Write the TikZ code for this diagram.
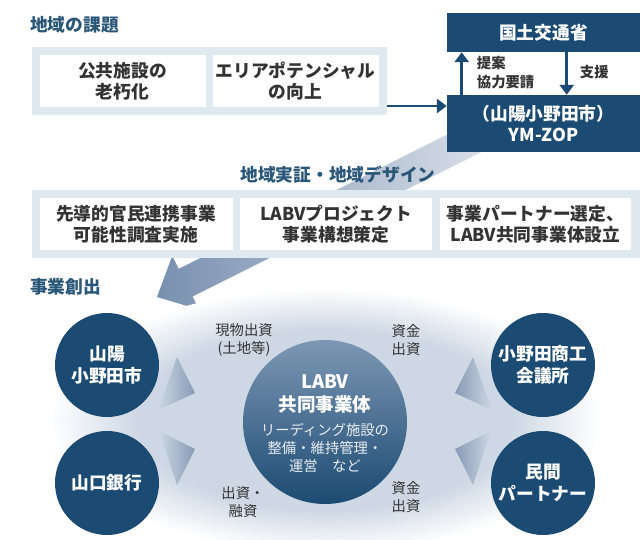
\documentclass[tikz,border=0pt]{standalone}
\usepackage{fontspec}
\setmainfont{Noto Sans CJK JP}
\usetikzlibrary{arrows.meta,calc}
\definecolor{navy}{HTML}{1B4A72}
\definecolor{headblue}{HTML}{2A5677}
\definecolor{panelblue}{HTML}{DFE9F0}
\definecolor{glowblue}{HTML}{CDD8E4}
\definecolor{wedgeblue}{HTML}{8799B5}
\definecolor{arrowblue}{HTML}{7890B0}
\definecolor{hubtop}{HTML}{7D97B4}
\definecolor{inkgray}{HTML}{333333}
\newlength{\pxu}
\setlength{\pxu}{0.025cm}
\pgfdeclareradialshading{glow}{\pgfpoint{0bp}{0bp}}{color(0bp)=(glowblue); color(17bp)=(glowblue); color(25bp)=(white); color(50bp)=(white)}
\begin{document}
\begin{tikzpicture}[x=0.025cm,y=-0.025cm,
  big/.style={font=\bfseries\fontsize{12.6}{15}\selectfont},
  heading/.style={big,text=headblue,anchor=west,inner sep=0pt},
  panel/.style={fill=panelblue,inner sep=0pt,minimum height=68\pxu},
  whitebox/.style={big,fill=white,text=inkgray,align=center,inner sep=0pt,minimum height=52\pxu},
  navybox/.style={big,fill=navy,text=white,align=center,inner sep=0pt,minimum width=193\pxu},
  party/.style={circle,fill=navy,text=white,align=center,inner sep=0pt,minimum size=104\pxu,
    font=\bfseries\fontsize{12.6}{15.4}\selectfont},
  hub/.style={circle,top color=hubtop,bottom color=navy,inner sep=0pt,minimum size=164\pxu},
  hubtitle/.style={text=white,align=center,font=\bfseries\fontsize{13.2}{16.2}\selectfont},
  hubnote/.style={text=white!90!navy,align=center,font=\fontsize{10.2}{13.1}\selectfont},
  flowlabel/.style={text=inkgray,align=center,font=\fontsize{10.2}{12.4}\selectfont},
  asklabel/.style={text=inkgray,anchor=west,align=left,font=\bfseries\fontsize{10.2}{13.4}\selectfont},
  flow/.style={draw=navy,line width=2.1pt,-{Triangle[length=7pt,width=10pt]}}]
\useasboundingbox (0,0) rectangle (640,540);

\begin{scope}[shift={(157,297)},rotate=26.57]
\shade[left color=arrowblue,right color=arrowblue!20!white] (0,0) -- (32,30) -- (32,15.5) -- (406,15.5)
  -- (406,-15.5) -- (32,-15.5) -- (32,-30) -- cycle;
\end{scope}

\node[heading] (issues) at (30,25) {地域の課題};
\node[panel,minimum width=355\pxu] (issuepanel) at (209.5,81) {};
\node[whitebox,minimum width=166\pxu] (aging) at (122.5,81) {公共施設の\\老朽化};
\node[whitebox,minimum width=166\pxu] (potential) at (295.5,81) {エリアポテンシャル\\の向上};

\node[navybox,minimum height=39\pxu] (mlit) at (543.5,32.5) {国土交通省};
\node[navybox,minimum height=57\pxu] (zop) at (543.5,123.5) {（山陽小野田市）\\YM-ZOP};

\coordinate (feed) at (387,106);
\draw[flow] (feed) -- (feed -| zop.west);
\draw[flow] ($(zop.north west)+(15,0)$) -- ($(mlit.south west)+(15,0)$);
\draw[flow] ($(mlit.south west)+(120,0)$) -- ($(zop.north west)+(120,0)$);
\node[asklabel] (ask) at (472,73) {提案\\協力要請};
\node[asklabel] (aid) at (575,72) {支援};

\node[heading,anchor=center] (design) at (338,175) {地域実証・地域デザイン};
\node[panel,minimum width=608\pxu] (designpanel) at (336,224) {};
\node[whitebox,minimum width=193\pxu] (study) at (136,224) {先導的官民連携事業\\可能性調査実施};
\node[whitebox,minimum width=192\pxu] (plan) at (336,224) {LABVプロジェクト\\事業構想策定};
\node[whitebox,minimum width=191\pxu] (setup) at (535.5,224) {事業パートナー選定、\\LABV共同事業体設立};

\node[heading] (create) at (30,287) {事業創出};
\shade[shading=glow] (325,420) ellipse [x radius=275, y radius=132];

\shade[left color=glowblue,right color=wedgeblue] (177,357) -- (195,393) -- (158,410) -- cycle;
\shade[left color=glowblue,right color=wedgeblue] (159,431) -- (195,449) -- (177,485) -- cycle;
\shade[left color=wedgeblue,right color=glowblue] (473,357) -- (455,393) -- (492,410) -- cycle;
\shade[left color=wedgeblue,right color=glowblue] (491,431) -- (455,449) -- (473,485) -- cycle;

\node[party] (city) at (107,365) {山陽\\小野田市};
\node[party] (bank) at (107,483) {山口銀行};
\node[party] (chamber) at (543,365) {小野田商工\\会議所};
\node[party] (partner) at (543,483) {民間\\パートナー};

\node[hub] (labv) at (325,422) {};
\node[hubtitle] (labvname) at (325,394) {LABV\\共同事業体};
\node[hubnote] (labvrole) at (325,448) {リーディング施設の\\整備・維持管理・\\運営　など};

\node[flowlabel] (inkind) at (244,340) {現物出資\\(土地等)};
\node[flowlabel] (funda) at (406,340) {資金\\出資};
\node[flowlabel] (loan) at (243,502) {出資・\\融資};
\node[flowlabel] (fundb) at (406,497) {資金\\出資};
\end{tikzpicture}
\end{document}
